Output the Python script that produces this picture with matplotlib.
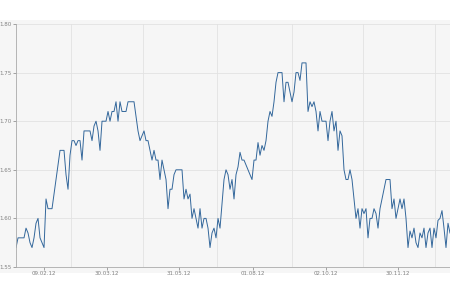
import numpy as np
import matplotlib
matplotlib.use("Agg")
import matplotlib.pyplot as plt
from matplotlib.patches import Rectangle

# price series (one point per ~trading day pair)
values = [
    1.57, 1.58, 1.58, 1.58, 1.58, 1.59, 1.585, 1.575, 1.57, 1.58,
    1.595, 1.60, 1.58, 1.575, 1.57, 1.62, 1.61, 1.61, 1.61, 1.625,
    1.64, 1.655, 1.67, 1.67, 1.67, 1.645, 1.63, 1.665, 1.68, 1.68,
    1.675, 1.68, 1.68, 1.66, 1.69, 1.69, 1.69, 1.69, 1.68, 1.695,
    1.70, 1.69, 1.67, 1.70, 1.70, 1.70, 1.71, 1.70, 1.71, 1.71,
    1.72, 1.70, 1.72, 1.71, 1.71, 1.71, 1.72, 1.72, 1.72, 1.72,
    1.705, 1.69, 1.68, 1.685, 1.69, 1.68, 1.68, 1.67, 1.66, 1.67,
    1.66, 1.66, 1.64, 1.66, 1.65, 1.64, 1.61, 1.63, 1.63, 1.645,
    1.65, 1.65, 1.65, 1.65, 1.62, 1.63, 1.62, 1.625, 1.60, 1.61,
    1.60, 1.59, 1.61, 1.59, 1.60, 1.60, 1.59, 1.57, 1.585, 1.59,
    1.58, 1.60, 1.59, 1.615, 1.64, 1.65, 1.645, 1.63, 1.64, 1.62,
    1.645, 1.653, 1.668, 1.66, 1.66, 1.655, 1.65, 1.645, 1.64, 1.66,
    1.66, 1.678, 1.665, 1.675, 1.67, 1.68, 1.70, 1.71, 1.705, 1.72,
    1.74, 1.75, 1.75, 1.75, 1.72, 1.74, 1.74, 1.73, 1.72, 1.73,
    1.75, 1.75, 1.742, 1.76, 1.76, 1.76, 1.71, 1.72, 1.715, 1.72,
    1.71, 1.69, 1.71, 1.70, 1.70, 1.70, 1.68, 1.70, 1.71, 1.69,
    1.70, 1.67, 1.69, 1.685, 1.65, 1.64, 1.64, 1.65, 1.64, 1.62,
    1.60, 1.61, 1.59, 1.61, 1.605, 1.61, 1.58, 1.60, 1.60, 1.61,
    1.605, 1.59, 1.61, 1.62, 1.63, 1.64, 1.64, 1.64, 1.61, 1.62,
    1.60, 1.61, 1.62, 1.61, 1.62, 1.60, 1.57, 1.587, 1.58, 1.59,
    1.575, 1.57, 1.585, 1.58, 1.59, 1.57, 1.585, 1.59, 1.57, 1.59,
    1.58, 1.598, 1.60, 1.608, 1.59, 1.57, 1.595, 1.585,
]

date_labels = ["09.02.12", "30.03.12", "31.05.12", "01.08.12", "02.10.12", "30.11.12"]
label_pos = [14, 45.5, 81.5, 118.5, 155, 191]
grid_pos = [27.5, 63.5, 100.5, 138, 173.5, 209.5]
y_ticks = [1.55, 1.60, 1.65, 1.70, 1.75, 1.80]

bg = "#f6f6f6"
fig = plt.figure(figsize=(4.5, 3), dpi=100)
# light panel behind the whole chart area
fig.add_artist(Rectangle((0, 0.09), 1, 0.843, transform=fig.transFigure,
                         facecolor=bg, edgecolor="none", zorder=-10))
ax = fig.add_axes([0.0356, 0.11, 0.9644, 0.81])
ax.set_zorder(5)
ax.set_facecolor(bg)

x = np.arange(len(values))
ax.plot(x, values, color="#33679b", linewidth=0.7)

ax.set_xlim(0, len(values) - 1)
ax.set_ylim(1.55, 1.80)

ax.set_yticks(y_ticks)
ax.set_yticklabels(["%.2f" % v for v in y_ticks])
ax.set_xticks(label_pos)
ax.set_xticklabels(date_labels)
ax.set_xticks(grid_pos, minor=True)

ax.tick_params(axis="both", labelsize=4, colors="#808080", length=2, width=0.5, pad=1)
ax.tick_params(axis="x", which="minor", length=0)
ax.grid(axis="y", which="major", color="#e2e2e2", linewidth=0.6)
ax.grid(axis="x", which="minor", color="#e2e2e2", linewidth=0.6)

for side in ["top", "right"]:
    ax.spines[side].set_visible(False)
ax.spines["left"].set_color("#aaaaaa")
ax.spines["bottom"].set_color("#aaaaaa")
ax.spines["left"].set_linewidth(0.6)
ax.spines["bottom"].set_linewidth(0.6)

plt.savefig("out.png", dpi=100)
plt.close()
